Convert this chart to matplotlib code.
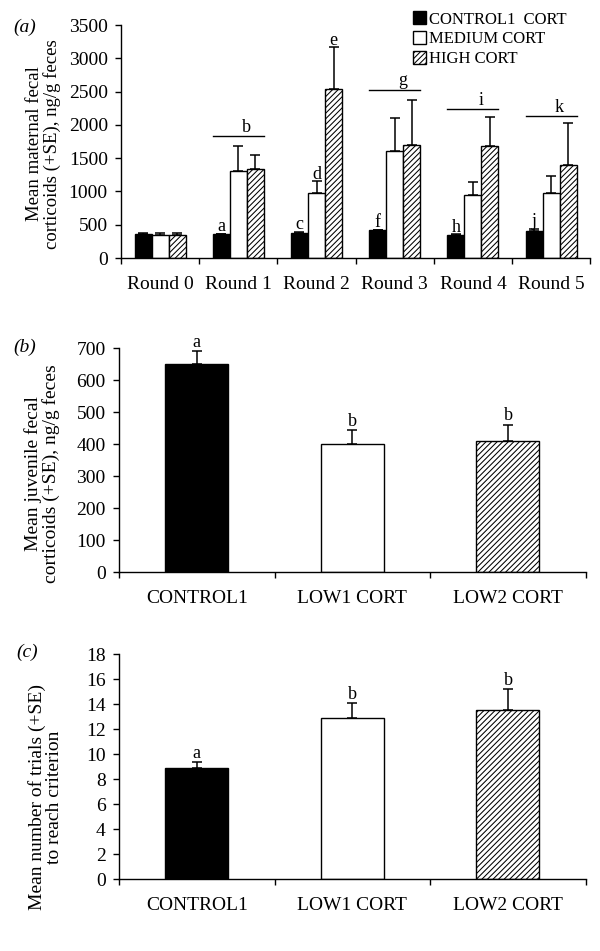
import matplotlib
matplotlib.use("Agg")
import matplotlib.pyplot as plt
import numpy as np

plt.rcParams['font.family'] = ['Liberation Serif', 'DejaVu Serif']
plt.rcParams['hatch.linewidth'] = 0.75

# ── Data ───────────────────────────────────────────────────────────────────────
rounds = ['Round 0', 'Round 1', 'Round 2', 'Round 3', 'Round 4', 'Round 5']
control_mean = [365, 355, 380, 415, 345, 405]
control_se = [15, 10, 15, 10, 10, 30]
medium_mean = [350, 1305, 970, 1605, 950, 970]
medium_se = [30, 375, 180, 495, 190, 260]
high_mean = [340, 1330, 2545, 1705, 1685, 1395]
high_se = [40, 215, 620, 675, 435, 640]

control_letters = ['', 'a', 'c', 'f', 'h', 'j']
medium_letters = ['', '', 'd', '', '', '']
high_letters = ['', '', 'e', '', '', '']
bracket_letters = ['', 'b', '', 'g', 'i', 'k']
bracket_height = [None, 1830, None, 2530, 2240, 2135]

groups = ['CONTROL1', 'LOW1 CORT', 'LOW2 CORT']
juv_mean = [650, 401, 408]
juv_se = [40, 42, 53]
juv_letters = ['a', 'b', 'b']

trials_mean = [8.9, 12.85, 13.5]
trials_se = [0.47, 1.2, 1.7]
trials_letters = ['a', 'b', 'b']

# black / plain white / hatched white
styles = [dict(color='black', hatch=None),
          dict(color='white', hatch=None),
          dict(color='white', hatch='//////')]


def style_axis(ax, labels, ymax, ystep):
    n = len(labels)
    ax.set_xlim(-0.5, n - 0.5)
    ax.set_ylim(0, ymax)
    ax.set_yticks(np.arange(0, ymax + ystep / 2, ystep))
    ax.set_xticks(range(n))
    ax.set_xticklabels(labels, fontsize=14)
    ax.set_xticks(np.arange(-0.5, n, 1.0), minor=True)
    ax.tick_params(axis='x', which='major', length=0, pad=13)
    ax.tick_params(axis='x', which='minor', length=4.5, width=1.0, direction='out')
    ax.tick_params(axis='y', length=4.5, width=1.0, direction='out', labelsize=14, pad=5)
    for s in ['top', 'right']:
        ax.spines[s].set_visible(False)
    for s in ['left', 'bottom']:
        ax.spines[s].set_linewidth(1.0)


def letter(ax, x, y, txt, dy=2):
    if txt:
        ax.annotate(txt, (x, y), xytext=(0, dy), textcoords='offset points',
                    ha='center', va='baseline', fontsize=13)


fig = plt.figure(figsize=(6, 9.51), dpi=100)

# ── (a) maternal corticoids per round ─────────────────────────────────────────
ax1 = fig.add_axes([0.2017, 0.7287, 0.782, 0.245])
w = 0.218
x = np.arange(len(rounds))
series = [(control_mean, control_se, 'CONTROL1  CORT', control_letters),
          (medium_mean, medium_se, 'MEDIUM CORT', medium_letters),
          (high_mean, high_se, 'HIGH CORT', high_letters)]
for i, (m, se, lab, lets) in enumerate(series):
    pos = x + (i - 1) * w
    ax1.bar(pos, m, w, color=styles[i]['color'], hatch=styles[i]['hatch'],
            edgecolor='black', linewidth=1.0, label=lab, zorder=2)
    ax1.errorbar(pos, m, yerr=[np.zeros(len(m)), se], fmt='none', ecolor='black',
                 elinewidth=1.1, capsize=3.5, capthick=1.1, zorder=3)
    for p, v, s, t in zip(pos, m, se, lets):
        letter(ax1, p, v + s, t)

for xi, t, h in zip(x, bracket_letters, bracket_height):
    if t:
        ax1.plot([xi - 1.5 * w, xi + 1.5 * w], [h, h], color='black', lw=1.0)
        letter(ax1, xi + 0.5 * w, h, t, dy=3)

style_axis(ax1, rounds, 3500, 500)
ax1.set_ylabel('Mean maternal fecal\ncorticoids (+SE), ng/g feces', fontsize=13.5,
               linespacing=1.0)
ax1.yaxis.set_label_coords(-0.128, 0.49)
ax1.legend(loc='upper left', bbox_to_anchor=(0.688, 0.988),
           bbox_transform=fig.transFigure, frameon=False, fontsize=12,
           handlelength=0.8, handleheight=0.8, handletextpad=0.15,
           labelspacing=0.22, borderpad=0, borderaxespad=0)
fig.text(0.022, 0.971, '(a)', fontsize=14, style='italic', va='center')

# ── (b) juvenile corticoids ───────────────────────────────────────────────────
ax2 = fig.add_axes([0.1983, 0.3985, 0.778, 0.2355])
for i, (m, se, t) in enumerate(zip(juv_mean, juv_se, juv_letters)):
    ax2.bar(i, m, 0.405, color=styles[i]['color'], hatch=styles[i]['hatch'],
            edgecolor='black', linewidth=1.0, zorder=2)
    ax2.errorbar(i, m, yerr=[[0], [se]], fmt='none', ecolor='black',
                 elinewidth=1.1, capsize=3.5, capthick=1.1, zorder=3)
    letter(ax2, i, m + se, t, dy=3)
style_axis(ax2, groups, 700, 100)
ax2.set_ylabel('Mean juvenile fecal\ncorticoids (+SE), ng/g feces', fontsize=14,
               linespacing=1.0)
ax2.yaxis.set_label_coords(-0.126, 0.44)
fig.text(0.022, 0.635, '(b)', fontsize=14, style='italic', va='center')

# ── (c) trials to criterion ───────────────────────────────────────────────────
ax3 = fig.add_axes([0.1983, 0.0757, 0.778, 0.2366])
for i, (m, se, t) in enumerate(zip(trials_mean, trials_se, trials_letters)):
    ax3.bar(i, m, 0.405, color=styles[i]['color'], hatch=styles[i]['hatch'],
            edgecolor='black', linewidth=1.0, zorder=2)
    ax3.errorbar(i, m, yerr=[[0], [se]], fmt='none', ecolor='black',
                 elinewidth=1.1, capsize=3.5, capthick=1.1, zorder=3)
    letter(ax3, i, m + se, t, dy=3)
style_axis(ax3, groups, 18, 2)
ax3.set_ylabel('Mean number of trials (+SE)\nto reach criterion', fontsize=14,
               linespacing=1.0)
ax3.yaxis.set_label_coords(-0.12, 0.364)
fig.text(0.028, 0.314, '(c)', fontsize=14, style='italic', va='center')

fig.savefig('out.png', dpi=100)
